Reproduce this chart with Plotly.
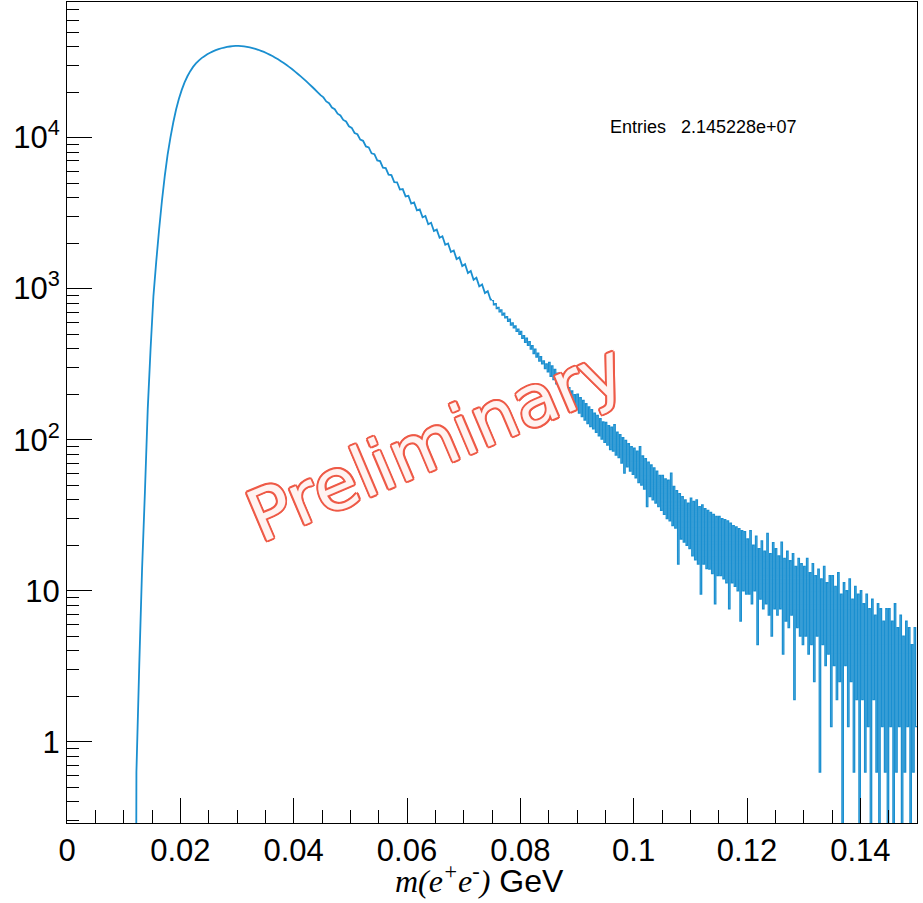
import numpy as np
import plotly.graph_objects as go

# ---------------- data ----------------
SMOOTH_START = 0.012      # GeV, first filled bin
SMOOTH_WIDTH = 0.0005     # GeV per bin in the smooth part
smooth_values = [
    0.63, 3.2, 14, 45, 160, 400, 890, 1514, 2455, 3802,
    5559, 7674, 10000, 12589, 15346, 18072, 20701, 23174, 25468, 27542,
    29376, 30974, 32359, 33574, 34594, 35597, 36460, 37214, 37897, 38504,
    39031, 39474, 39829, 40096, 40300, 40458, 40417, 40305, 40120, 39862,
    39533, 39135, 38669, 38138, 37546, 36895, 36188, 35438, 34647, 33819,
    32958, 32063, 31147, 30214, 29269, 28314, 27353, 26387, 25427, 24473,
    23533, 22609, 21700, 20816, 19953, 19112, 18450, 17350, 16880, 15830,
    15420, 14400, 14020, 13090, 12780, 11880, 11600, 10730, 10520, 9700,
    9520, 8740, 8600, 7870, 7760, 7060, 6990, 6330, 6280, 5680,
    5640, 5070, 5060, 4530, 4560, 4080, 4120, 3660, 3720, 3300,
    3350, 2970, 3030, 2670, 2730, 2410, 2460, 2170, 2220, 1950,
    1990, 1750, 1790, 1570, 1610, 1410, 1450, 1270, 1310, 1145,
    1180, 1035, 1065, 935, 962, 845,
]

TAIL_START = 0.075        # GeV
TAIL_WIDTH = 0.00025      # GeV per bin in the noisy tail
tail_values = [
    832, 781, 795, 738, 752, 701, 724, 669, 688, 640, 652, 608, 627, 574, 593, 551, 566, 521, 540, 498,
    521, 468, 489, 441, 470, 421, 446, 398, 419, 372, 398, 352, 374, 331, 355, 318, 333, 296, 317, 281,
    325, 263, 308, 250, 292, 234, 276, 221, 261, 209, 247, 199, 235, 186, 221, 177, 210, 167, 199, 158,
    200, 150, 190, 142, 182, 135, 173, 128, 165, 122, 158, 118, 150, 112, 145, 106, 138, 101, 131, 96,
    130, 92, 124, 86, 121, 84, 126, 79, 112, 76, 108, 70, 103, 60, 99, 66, 94, 62, 90, 59,
    88, 56, 84, 52, 90, 50, 78, 47, 75, 36, 71, 42, 68, 40, 65, 38, 62, 36, 58, 34,
    58, 32, 55, 30, 54, 29, 60, 27, 49, 26, 46, 15, 44, 22, 42, 21, 40, 20, 38, 19,
    41, 17, 39, 16, 40, 15, 36, 9.5, 37, 15, 35, 14, 34, 13.9, 33, 13, 32, 8.2, 31, 12.6,
    31, 12.6, 30, 12, 29.6, 11.3, 29, 7.6, 28, 11.3, 27, 10.7, 26.5, 10, 25.8, 6.3, 25, 10, 24.6, 9.5,
    22, 9.5, 25, 8.2, 20, 10, 23, 4.4, 19, 8.8, 21.4, 7.6, 18.3, 8.2, 24, 6.9, 17.6, 5, 20.8, 7.6,
    19, 6.9, 17, 7.6, 21, 3.8, 16.4, 6.3, 18.3, 5.7, 15.8, 6.9, 17.6, 1.9, 14.5, 5.7, 16.4, 5, 15.1, 4.4,
    14.5, 5, 16.4, 3.8, 13.2, 4.4, 15.1, 2.5, 12.6, 5, 13.9, 0.63, 12, 4.4, 14.5, 3.2, 11.3, 3.8, 12.6, 1.26,
    12.6, 3.2, 10.7, 1.9, 13.2, 2.5, 9.5, 0, 11.3, 3.2, 10, 1.26, 12, 2.5, 8.8, 0.63, 10.7, 1.9, 9.5, 0,
    10, 1.9, 8.2, 0.63, 9.5, 1.26, 7.6, 0, 8.8, 1.9, 6.9, 0.63, 8.2, 0, 7.6, 1.26, 6.3, 0.63, 7.6, 0,
    7.6, 1.26, 6.3, 0, 8.2, 0.63, 5.7, 1.26, 6.9, 0, 5, 0.63, 6.3, 1.26, 5.7, 0, 4.4, 0.63, 5.7, 1.26,
]

x_tick_vals = [0, 0.02, 0.04, 0.06, 0.08, 0.1, 0.12, 0.14]
x_tick_text = ["0", "0.02", "0.04", "0.06", "0.08", "0.1", "0.12", "0.14"]
y_tick_vals = [1, 10, 100, 1000, 10000]
y_tick_text = ["1", "10", "10<sup>2</sup>", "10<sup>3</sup>", "10<sup>4</sup>"]
entries_label = "Entries"
entries_value = "2.145228e+07"
x_title_math = "m(e<sup>+</sup>e<sup>-</sup>)"
x_title_unit = "GeV"
watermark = "Preliminary"

X_RANGE = [0.0, 0.15]
Y_MIN, Y_MAX = 0.29, 79000.0

# ---------------- build histogram drawing ----------------
FLOOR = 1e-4  # empty bins drop below the axis, like ROOT

# smooth part: bins far narrower than a pixel in the original -> continuous line through bin centres
sm_vals = np.array(smooth_values, dtype=float)
sm_centres = SMOOTH_START + SMOOTH_WIDTH * (np.arange(len(sm_vals)) + 0.5)
sm_x = np.concatenate([[SMOOTH_START], sm_centres, [TAIL_START]])
sm_y = np.concatenate([[FLOOR], sm_vals, [sm_vals[-1]]])

# noisy tail: step histogram
tl_vals = np.array(tail_values, dtype=float)
tl_vals = np.where(tl_vals > 0, tl_vals, FLOOR)
tl_edges = TAIL_START + TAIL_WIDTH * np.arange(len(tl_vals))
x_right = TAIL_START + TAIL_WIDTH * len(tl_vals)
tl_x = np.concatenate([tl_edges, [x_right]])
tl_y = np.concatenate([tl_vals, [tl_vals[-1]]])

LINE_BLUE = "#1a8fd0"

fig = go.Figure()
fig.add_trace(go.Scatter(
    x=sm_x, y=sm_y, mode="lines",
    line=dict(color=LINE_BLUE, width=1.8, simplify=False),
    hoverinfo="skip", showlegend=False,
))
fig.add_trace(go.Scatter(
    x=tl_x, y=tl_y, mode="lines",
    line=dict(color=LINE_BLUE, width=1.3, shape="hv", simplify=False),
    hoverinfo="skip", showlegend=False,
))

x_minor = [round(0.005 * k, 4) for k in range(1, 31) if k % 4 != 0]
y_minor = [m * 10.0 ** e for e in range(-1, 5) for m in range(2, 10)
           if Y_MIN <= m * 10.0 ** e <= Y_MAX]

axis_common = dict(
    showline=True, linecolor="black", linewidth=1, mirror=True,
    showgrid=False, zeroline=False, ticks="inside", ticklen=25,
    tickwidth=1, tickcolor="black",
    tickfont=dict(family="Liberation Sans, Arial, sans-serif", size=31, color="black"),
)

fig.update_xaxes(
    range=X_RANGE, tickmode="array", tickvals=x_tick_vals, ticktext=x_tick_text,
    minor=dict(tickmode="array", tickvals=x_minor, ticks="inside", ticklen=13,
               tickwidth=1, tickcolor="black", showgrid=False),
    **axis_common,
)
fig.update_yaxes(
    type="log", range=[np.log10(Y_MIN), np.log10(Y_MAX)],
    tickmode="array", tickvals=y_tick_vals, ticktext=y_tick_text,
    minor=dict(tickmode="array", tickvals=y_minor, ticks="inside", ticklen=12,
               tickwidth=1, tickcolor="black", showgrid=False),
    **axis_common,
)

RED = "#ee5a47"
outline = ", ".join(f"{dx}px {dy}px 0 {RED}" for dx, dy in
                    [(2, 0), (-2, 0), (0, 2), (0, -2), (1.5, 1.5), (-1.5, -1.5), (1.5, -1.5), (-1.5, 1.5)])

fig.update_layout(
    width=923, height=903,
    margin=dict(l=67, r=6, t=2, b=80),
    paper_bgcolor="white", plot_bgcolor="white",
    font=dict(family="Liberation Sans, Arial, sans-serif", size=30, color="black"),
    annotations=[
        dict(text=entries_label, xref="paper", yref="paper", x=0.6365, y=0.848,
             xanchor="left", yanchor="middle", showarrow=False,
             font=dict(family="Liberation Sans, Arial, sans-serif", size=18, color="black")),
        dict(text=entries_value, xref="paper", yref="paper", x=0.72, y=0.848,
             xanchor="left", yanchor="middle", showarrow=False,
             font=dict(family="Liberation Sans, Arial, sans-serif", size=18, color="black")),
        dict(text=f'<span style="font-family:Liberation Serif, Times New Roman, serif"><i>{x_title_math}</i></span> {x_title_unit}',
             xref="paper", yref="paper", x=0.485, y=-0.068,
             xanchor="center", yanchor="middle", showarrow=False,
             font=dict(family="Liberation Sans, Arial, sans-serif", size=32, color="black")),
        dict(text=watermark, xref="paper", yref="paper", x=0.433, y=0.464,
             xanchor="center", yanchor="middle", showarrow=False, textangle=-23,
             font=dict(family="DejaVu Sans, sans-serif", size=71, color="#fff3f1",
                       shadow=outline)),
    ],
)

fig.write_html("out.html")
